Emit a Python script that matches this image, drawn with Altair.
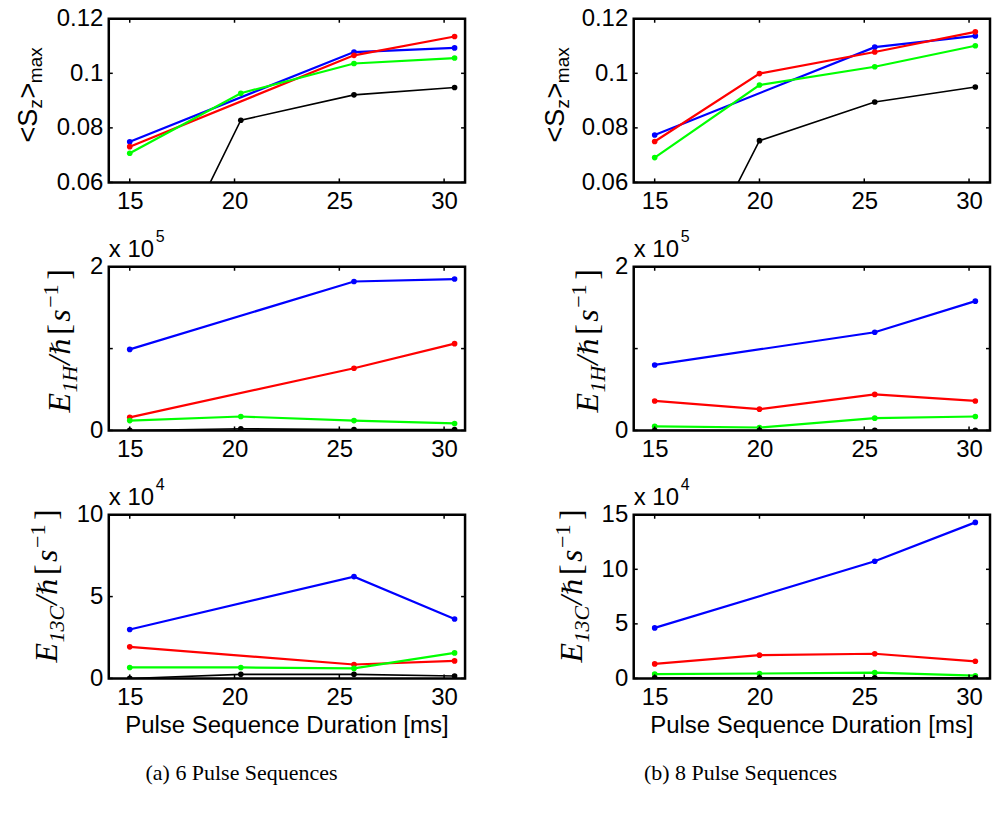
import altair as alt
import pandas as pd

# ---------------- data ----------------
X6 = [15.0, 20.3, 25.7, 30.5]
X8 = [15.0, 20.0, 25.5, 30.3]

SZ6_BLUE = [0.0749, None, 0.1078, 0.1093]
SZ6_RED = [0.0731, None, 0.1066, 0.1135]
SZ6_GREEN = [0.0707, 0.0927, 0.1036, 0.1056]
SZ6_BLACK = [0.0, 0.0828, 0.0921, 0.0948]

SZ8_BLUE = [0.0774, None, 0.1096, 0.1137]
SZ8_RED = [0.0750, 0.0999, 0.1078, 0.1152]
SZ8_GREEN = [0.0691, 0.0957, 0.1024, 0.1101]
SZ8_BLACK = [0.0, 0.0753, 0.0895, 0.0950]

E1H6_BLUE = [0.99, None, 1.82, 1.85]
E1H6_RED = [0.16, None, 0.76, 1.06]
E1H6_GREEN = [0.12, 0.17, 0.12, 0.085]
E1H6_BLACK = [0.0, 0.02, 0.01, 0.01]

E1H8_BLUE = [0.80, None, 1.20, 1.58]
E1H8_RED = [0.36, 0.26, 0.44, 0.36]
E1H8_GREEN = [0.05, 0.036, 0.15, 0.17]
E1H8_BLACK = [0.0, 0.0, 0.0, 0.0]

E13C6_BLUE = [2.99, None, 6.22, 3.63]
E13C6_RED = [1.93, None, 0.85, 1.07]
E13C6_GREEN = [0.67, 0.67, 0.61, 1.56]
E13C6_BLACK = [0.0, 0.25, 0.25, 0.15]

E13C8_BLUE = [4.63, None, 10.74, 14.3]
E13C8_RED = [1.33, 2.13, 2.26, 1.57]
E13C8_GREEN = [0.40, 0.45, 0.53, 0.25]
E13C8_BLACK = [0.05, 0.05, 0.05, 0.05]

X_TICKS = [15, 20, 25, 30]
X_DOMAIN = [14, 31]
SZ_TICKS = [0.06, 0.08, 0.1, 0.12]
E1H_TICKS = [0, 1, 2]
E13C6_TICKS = [0, 5, 10]
E13C8_TICKS = [0, 5, 10, 15]

X_TITLE = "Pulse Sequence Duration [ms]"
CAPTIONS = ["(a) 6 Pulse Sequences", "(b) 8 Pulse Sequences"]

# ---------------- style ----------------
W, H = 357, 164
SANS = "Liberation Sans, Arial, Helvetica"
SERIF = "Liberation Serif, DejaVu Serif, Times New Roman"
HBAR_FONT = "DejaVu Serif"
COLORS = {"blue": "#0000ff", "red": "#ff0000", "green": "#00ff00", "black": "#000000"}
TICK_LEN = 4
LABEL_SIZE = 24


def series_df(xs, vals):
    rows = [{"x": x, "y": v} for x, v in zip(xs, vals) if v is not None]
    return pd.DataFrame(rows)


def rot_text(segments, x0, y0):
    """segments: (text, offset_along, size, dx, font, style)"""
    layers = []
    for text, off, size, dx, font, style in segments:
        layers.append(
            alt.Chart(pd.DataFrame({"t": [text]}))
            .mark_text(angle=270, align="left", baseline="alphabetic", font=font,
                       fontSize=size, fontStyle=style, color="black")
            .encode(text="t:N", x=alt.value(x0 + dx), y=alt.value(y0 - off))
        )
    return layers


def sz_label(x0, y0):
    segs = [
        ("<S", 0, 27, 0, SANS, "normal"),
        ("z", 34, 19, 5, SANS, "normal"),
        (">", 44, 27, 0, SANS, "normal"),
        ("max", 59.5, 19, 5, SANS, "normal"),
    ]
    return rot_text(segs, x0, y0)


def e_label(sub, x0, y0):
    sublen = 26.9 if sub == "1H" else 36.7
    o = 20 + sublen + 1
    segs = [
        ("E", 0, 32, 0, SERIF, "italic"),
        (sub, 20, 22, 7, SERIF, "italic"),
        ("/", o, 32, 0, SERIF, "italic"),
        ("\u210f", o + 10, 27, 0, HBAR_FONT, "italic"),
        ("[", o + 30, 32, 0, SERIF, "normal"),
        ("s", o + 43, 32, 0, SERIF, "italic"),
        ("\u22121", o + 57, 22, -12, SERIF, "normal"),
        ("]", o + 85, 32, 0, SERIF, "normal"),
    ]
    return rot_text(segs, x0, y0)


def exp_label(exp, x0=0):
    return [
        alt.Chart(pd.DataFrame({"t": ["x 10"]}))
        .mark_text(align="left", baseline="alphabetic", font=SANS, fontSize=LABEL_SIZE)
        .encode(text="t:N", x=alt.value(x0), y=alt.value(-10)),
        alt.Chart(pd.DataFrame({"t": [exp]}))
        .mark_text(align="left", baseline="alphabetic", font=SANS, fontSize=16)
        .encode(text="t:N", x=alt.value(x0 + 47), y=alt.value(-25)),
    ]


def panel(xs, series, ydom, yticks, yfmt, extra=None):
    xsc = alt.Scale(domain=X_DOMAIN, nice=False, zero=False)
    ysc = alt.Scale(domain=ydom, nice=False, zero=False)
    xaxis = alt.Axis(values=X_TICKS, ticks=False, domain=False, grid=False, title=None,
                     labelFont=SANS, labelFontSize=LABEL_SIZE, labelColor="black",
                     labelPadding=7, labelFlush=False)
    yaxis = alt.Axis(values=yticks, ticks=False, domain=False, grid=False, title=None,
                     labelFont=SANS, labelFontSize=LABEL_SIZE, labelColor="black",
                     labelPadding=6, format=yfmt, labelFlush=False)

    def X(field):
        return alt.X(field, scale=xsc, axis=xaxis, title=None)

    def Y(field):
        return alt.Y(field, scale=ysc, axis=yaxis, title=None)

    layers = []
    for cname, vals in series:
        df = series_df(xs, vals)
        col = COLORS[cname]
        sw = 1.6 if cname == "black" else 2.2
        layers.append(alt.Chart(df).mark_line(color=col, strokeWidth=sw, clip=True)
                      .encode(x=X("x:Q"), y=Y("y:Q")))
        layers.append(alt.Chart(df).mark_circle(color=col, size=32, opacity=1, clip=True)
                      .encode(x=X("x:Q"), y=Y("y:Q")))
    # inward ticks
    xt = pd.DataFrame({"x": X_TICKS})
    yt = pd.DataFrame({"y": yticks})
    tick_style = dict(color="black", strokeWidth=1.5)
    layers.append(alt.Chart(xt).mark_rule(**tick_style).encode(
        x=X("x:Q"), y=alt.value(H), y2=alt.value(H - TICK_LEN)))
    layers.append(alt.Chart(xt).mark_rule(**tick_style).encode(
        x=X("x:Q"), y=alt.value(0), y2=alt.value(TICK_LEN)))
    layers.append(alt.Chart(yt).mark_rule(**tick_style).encode(
        y=Y("y:Q"), x=alt.value(0), x2=alt.value(TICK_LEN)))
    layers.append(alt.Chart(yt).mark_rule(**tick_style).encode(
        y=Y("y:Q"), x=alt.value(W), x2=alt.value(W - TICK_LEN)))
    if extra:
        layers.extend(extra)
    return alt.layer(*layers).properties(width=W, height=H)


def xtitle_layer():
    return (alt.Chart(pd.DataFrame({"t": [X_TITLE]}))
            .mark_text(align="center", baseline="middle", font=SANS, fontSize=LABEL_SIZE)
            .encode(text="t:N", x=alt.value(W / 2), y=alt.value(H + 48)))


def caption(text, cx):
    return (alt.Chart(pd.DataFrame({"t": [text]}))
            .mark_text(align="center", baseline="middle", font=SERIF, fontSize=22)
            .encode(text="t:N", x=alt.value(cx), y=alt.value(H + 95)))


anchor = (alt.Chart(pd.DataFrame({"a": [0]}))
          .mark_rule(strokeOpacity=0)
          .encode(x=alt.value(-107), x2=alt.value(-107), y=alt.value(-16), y2=alt.value(-16)))

p1 = panel(X6, [("blue", SZ6_BLUE), ("red", SZ6_RED), ("green", SZ6_GREEN), ("black", SZ6_BLACK)],
           [0.06, 0.12], SZ_TICKS, ".2~f", extra=sz_label(-72, 124) + [anchor])
p2 = panel(X8, [("blue", SZ8_BLUE), ("red", SZ8_RED), ("green", SZ8_GREEN), ("black", SZ8_BLACK)],
           [0.06, 0.12], SZ_TICKS, ".2~f", extra=sz_label(-70, 124))
p3 = panel(X6, [("blue", E1H6_BLUE), ("red", E1H6_RED), ("green", E1H6_GREEN), ("black", E1H6_BLACK)],
           [0, 2], E1H_TICKS, "d", extra=e_label("1H", -39, 146) + exp_label("5"))
p4 = panel(X8, [("blue", E1H8_BLUE), ("red", E1H8_RED), ("green", E1H8_GREEN), ("black", E1H8_BLACK)],
           [0, 2], E1H_TICKS, "d", extra=e_label("1H", -36, 146) + exp_label("5"))
p5 = panel(X6, [("blue", E13C6_BLUE), ("red", E13C6_RED), ("green", E13C6_GREEN), ("black", E13C6_BLACK)],
           [0, 10], E13C6_TICKS, "d",
           extra=e_label("13C", -52, 148) + exp_label("4") + [xtitle_layer(),
                                                            caption(CAPTIONS[0], 240 - 107)])
p6 = panel(X8, [("blue", E13C8_BLUE), ("red", E13C8_RED), ("green", E13C8_GREEN), ("black", E13C8_BLACK)],
           [0, 15], E13C8_TICKS, "d",
           extra=e_label("13C", -52, 148) + exp_label("4") + [xtitle_layer(),
                                                            caption(CAPTIONS[1], 740 - 633)])

chart = (alt.concat(p1, p2, p3, p4, p5, p6, columns=2,
                    spacing={"row": 84.5, "column": 169}, bounds="flush")
         .properties(padding=0, background="white")
         .configure_view(stroke="black", strokeWidth=2.5))

chart.save("out.html", embed_options={"renderer": "svg", "actions": False})
